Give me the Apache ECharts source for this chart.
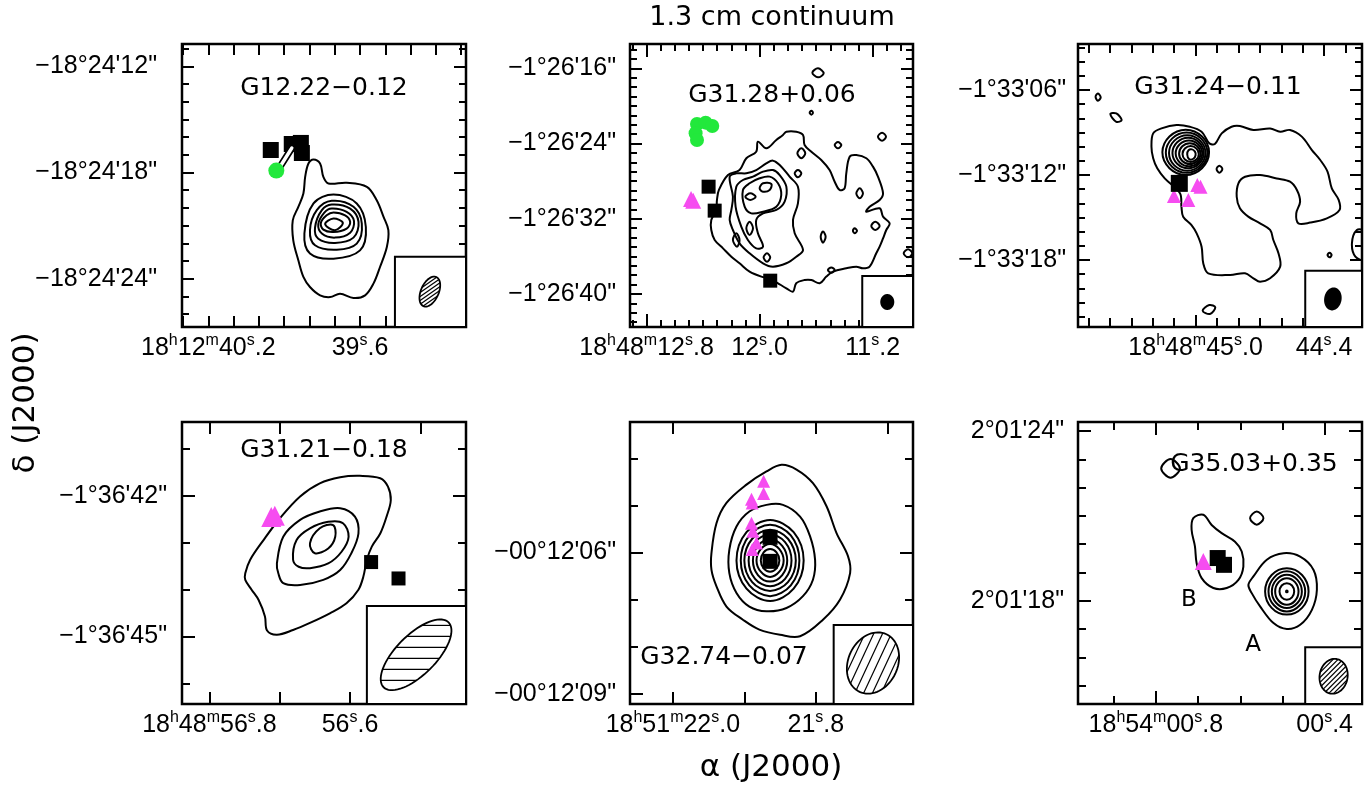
<!DOCTYPE html>
<html><head><meta charset="utf-8">
<script src="https://cdn.jsdelivr.net/npm/echarts@6/dist/echarts.min.js"></script>
<style>html,body{margin:0;padding:0;background:#fff}#c{width:1370px;height:792px}</style>
</head><body><div id="c"></div>
<script>
// ---------------- DATA ----------------
// Panel 1: G12.22-0.12  (x = RA seconds of 18h12m, y = -Dec arcsec of -18d24m)
const p1XTicks = [40.3,40.2,40.1,40.0,39.9,39.8,39.7,39.6,39.5,39.4,39.3,39.2];
const p1XLabelValues = [40.2, 39.6];
const p1XLabelText = ['18{u|h}12{u|m}40{u|s}.2', '39{u|s}.6'];
const p1YTicks = [-11,-12,-13,-14,-15,-16,-17,-18,-19,-20,-21,-22,-23,-24,-25,-26];
const p1YLabelValues = [-12, -18, -24];
const p1YLabelText = ["\u221218°24'12\"", "\u221218°24'18\"", "\u221218°24'24\""];
const p1Contours = [
  [[39.784,-17.26],[39.758,-17.49],[39.745,-18.25],[39.725,-18.62],[39.653,-18.58],[39.573,-18.81],[39.534,-19.57],[39.507,-20.51],[39.488,-21.26],[39.494,-22.21],[39.521,-23.34],[39.547,-24.28],[39.580,-24.94],[39.626,-25.09],[39.679,-24.85],[39.718,-25.04],[39.758,-24.94],[39.798,-24.47],[39.824,-23.90],[39.844,-22.96],[39.864,-21.83],[39.866,-20.70],[39.844,-19.94],[39.824,-19.19],[39.817,-18.25],[39.804,-17.49]],
  [[39.820,-21.45],[39.784,-19.75],[39.705,-19.25],[39.613,-19.75],[39.577,-21.08],[39.600,-22.40],[39.705,-22.87],[39.798,-22.58]],
  [[39.798,-21.26],[39.771,-20.13],[39.712,-19.60],[39.626,-19.94],[39.593,-20.89],[39.613,-22.02],[39.692,-22.36],[39.778,-22.11]],
  [[39.778,-21.11],[39.751,-20.13],[39.712,-19.81],[39.639,-20.04],[39.606,-20.79],[39.626,-21.68],[39.699,-21.98],[39.765,-21.74]],
  [[39.765,-20.92],[39.742,-20.28],[39.712,-20.04],[39.653,-20.23],[39.624,-20.74],[39.639,-21.40],[39.699,-21.68],[39.751,-21.45]],
  [[39.755,-20.85],[39.732,-20.42],[39.705,-20.26],[39.659,-20.42],[39.639,-20.79],[39.653,-21.17],[39.705,-21.36],[39.745,-21.23]],
  [[39.738,-20.92],[39.705,-20.60],[39.668,-20.85],[39.699,-21.26]]
];
const p1Squares = [[39.953,-16.73],[39.870,-16.39],[39.834,-16.33],[39.830,-16.90]];
const p1Circles = [[39.931,-17.89]];
const p1Triangles = [];
const p1Link = [[39.917,-17.69],[39.870,-16.62]];
const p1Beam = [39.324,-24.73,1.8,1.0,-24,39.462,-22.76];

// Panel 2: G31.28+0.06 (x = RA s of 18h48m, y = -Dec arcsec of -1d26m)
const p2XTicks = [12.9,12.8,12.7,12.6,12.5,12.4,12.3,12.2,12.1,12.0,11.9,11.8,11.7,11.6,11.5,11.4,11.3,11.2,11.1,11.0];
const p2XLabelValues = [12.8, 12.0, 11.2];
const p2XLabelText = ['18{u|h}48{u|m}12{u|s}.8', '12{u|s}.0', '11{u|s}.2'];
const p2YTicks = [-14,-15,-16,-17,-18,-19,-20,-21,-22,-23,-24,-25,-26,-27,-28,-29,-30,-31,-32,-33,-34,-35,-36,-37,-38,-39,-40,-41,-42,-43];
const p2YLabelValues = [-16, -24, -32, -40];
const p2YLabelText = ["\u22121°26'16\"", "\u22121°26'24\"", "\u22121°26'32\"", "\u22121°26'40\""];
const p2Contours = [
  [[12.288,-28.94],[12.224,-27.35],[12.142,-26.82],[12.094,-25.57],[12.024,-24.87],[12.012,-23.80],[11.953,-24.51],[11.882,-23.62],[11.835,-23.09],[11.811,-22.74],[11.741,-22.74],[11.693,-23.09],[11.682,-24.16],[11.634,-24.87],[11.564,-25.75],[11.505,-26.82],[11.469,-28.06],[11.434,-28.94],[11.399,-28.77],[11.387,-27.17],[11.363,-25.40],[11.316,-25.22],[11.245,-25.57],[11.198,-26.46],[11.163,-27.52],[11.127,-29.30],[11.151,-30.01],[11.222,-30.72],[11.245,-31.25],[11.151,-30.89],[11.127,-31.78],[11.080,-32.49],[11.104,-33.20],[11.127,-34.09],[11.151,-34.97],[11.175,-35.68],[11.222,-37.10],[11.269,-37.28],[11.316,-37.10],[11.387,-37.28],[11.481,-37.63],[11.528,-38.16],[11.575,-38.87],[11.634,-38.52],[11.682,-38.52],[11.741,-38.87],[11.764,-39.76],[11.811,-39.40],[11.870,-38.87],[11.929,-38.34],[11.988,-38.16],[12.071,-37.63],[12.142,-36.74],[12.200,-36.04],[12.259,-35.15],[12.318,-34.26],[12.342,-33.20],[12.342,-32.13],[12.307,-31.07],[12.302,-30.01]],
  [[12.212,-27.52],[12.189,-29.65],[12.200,-31.07],[12.212,-32.13],[12.189,-33.20],[12.142,-34.62],[12.071,-35.68],[11.976,-36.74],[11.906,-37.10],[11.811,-36.74],[11.741,-36.04],[11.693,-35.33],[11.752,-33.55],[11.764,-32.13],[11.729,-30.36],[11.729,-28.59],[11.788,-27.52],[11.858,-26.28],[11.906,-25.82],[11.953,-26.11],[12.024,-26.82],[12.094,-27.17],[12.165,-27.17]],
  [[12.165,-28.59],[12.170,-30.72],[12.130,-32.84],[12.083,-34.26],[12.024,-35.15],[11.976,-34.97],[12.012,-33.55],[12.024,-32.13],[11.976,-31.43],[11.882,-31.07],[11.823,-30.18],[11.811,-28.59],[11.858,-27.35],[11.906,-26.82],[11.976,-26.99],[12.047,-27.52],[12.118,-27.88]],
  [[12.118,-28.94],[12.106,-30.72],[12.059,-31.43],[11.976,-31.25],[11.882,-30.72],[11.847,-29.48],[11.870,-28.23],[11.929,-27.52],[12.000,-27.70],[12.071,-28.23]],
  [[12.101,-29.65],[12.066,-29.30],[12.028,-29.65],[12.066,-30.01]],
  [[12.000,-28.77],[11.976,-28.23],[11.917,-28.30],[11.929,-28.94],[11.976,-29.12]],
  [[12.071,-32.31],[12.047,-33.02],[12.071,-33.73],[12.094,-33.02]],
  [[12.165,-33.55],[12.142,-34.26],[12.160,-34.97],[12.189,-34.26]],
  [[11.733,-25.04],[11.705,-24.51],[11.677,-25.04],[11.705,-25.57]],
  [[11.752,-27.17],[11.729,-26.82],[11.705,-27.17],[11.729,-27.59]],
  [[11.469,-24.16],[11.446,-23.84],[11.422,-24.16],[11.446,-24.51]],
  [[11.163,-23.27],[11.134,-22.84],[11.106,-23.27],[11.134,-23.70]],
  [[11.316,-29.30],[11.292,-28.77],[11.269,-29.30],[11.292,-29.83]],
  [[11.210,-32.77],[11.182,-32.31],[11.151,-32.77],[11.182,-33.20]],
  [[11.568,-33.91],[11.552,-33.37],[11.533,-33.91],[11.552,-34.55]],
  [[11.517,-37.45],[11.493,-37.20],[11.469,-37.45],[11.493,-37.74]],
  [[11.972,-36.11],[11.948,-35.68],[11.925,-36.11],[11.948,-36.57]],
  [[10.981,-35.68],[10.950,-35.26],[10.920,-35.68],[10.950,-36.11]],
  [[11.340,-33.27],[11.328,-33.02],[11.311,-33.27],[11.328,-33.55]],
  [[11.627,-16.46],[11.587,-16.00],[11.547,-16.53],[11.587,-16.96]],
  [[11.646,-20.72],[11.634,-20.50],[11.623,-20.72],[11.634,-20.93]]
];
const p2Squares = [[12.361,-28.59],[12.318,-31.14],[11.925,-38.59]];
const p2Circles = [[12.443,-21.92],[12.382,-21.78],[12.335,-22.13],[12.453,-22.91],[12.443,-23.62]];
const p2Triangles = [[12.485,-29.9],[12.470,-30.1]];
const p2Beam = [11.097,-40.86,1.5,1.3,0,11.274,-38.09];

// Panel 3: G31.24-0.11 (x = RA s of 18h48m, y = -Dec arcsec of -1d33m)
const p3XTicks = [45.5,45.4,45.3,45.2,45.1,45.0,44.9,44.8,44.7,44.6,44.5,44.4,44.3];
const p3XLabelValues = [45.0, 44.4];
const p3XLabelText = ['18{u|h}48{u|m}45{u|s}.0', '44{u|s}.4'];
const p3YTicks = [-3,-4,-5,-6,-7,-8,-9,-10,-11,-12,-13,-14,-15,-16,-17,-18,-19,-20,-21,-22];
const p3YLabelValues = [-6, -12, -18];
const p3YLabelText = ["\u22121°33'06\"", "\u22121°33'12\"", "\u22121°33'18\""];
const p3Contours = [
  [[45.198,-9.06],[45.206,-10.00],[45.198,-10.82],[45.179,-11.53],[45.144,-12.24],[45.073,-13.29],[45.066,-14.24],[45.058,-14.94],[45.019,-15.53],[44.995,-16.12],[44.972,-17.06],[44.964,-18.24],[44.941,-18.94],[44.839,-19.06],[44.769,-18.94],[44.730,-19.29],[44.699,-19.53],[44.652,-19.29],[44.605,-18.47],[44.613,-17.53],[44.637,-16.59],[44.652,-15.88],[44.699,-15.41],[44.754,-14.94],[44.793,-14.35],[44.808,-13.53],[44.800,-12.59],[44.769,-12.12],[44.699,-12.00],[44.621,-12.24],[44.559,-12.47],[44.527,-13.06],[44.512,-13.88],[44.530,-14.71],[44.520,-15.41],[44.465,-15.36],[44.387,-15.06],[44.328,-14.47],[44.332,-13.76],[44.364,-12.94],[44.384,-11.76],[44.418,-10.94],[44.457,-10.24],[44.504,-9.29],[44.559,-8.82],[44.605,-8.94],[44.652,-8.71],[44.730,-8.82],[44.793,-8.54],[44.832,-8.59],[44.878,-9.06],[44.910,-9.81],[44.936,-9.76],[44.972,-8.94],[45.027,-8.59],[45.089,-8.47],[45.159,-8.71]],
  [[45.155,-10.40],[45.122,-9.28],[45.046,-8.80],[44.970,-9.28],[44.937,-10.40],[44.970,-11.52],[45.046,-12.00],[45.122,-11.52]],
  [[45.139,-10.42],[45.110,-9.43],[45.042,-9.00],[44.974,-9.43],[44.945,-10.42],[44.974,-11.41],[45.042,-11.84],[45.110,-11.41]],
  [[45.124,-10.44],[45.099,-9.57],[45.039,-9.19],[44.979,-9.57],[44.954,-10.44],[44.979,-11.32],[45.039,-11.69],[45.099,-11.32]],
  [[45.108,-10.45],[45.086,-9.69],[45.035,-9.37],[44.984,-9.69],[44.962,-10.45],[44.984,-11.21],[45.035,-11.53],[45.086,-11.21]],
  [[45.093,-10.47],[45.074,-9.83],[45.031,-9.56],[44.988,-9.83],[44.969,-10.47],[44.988,-11.11],[45.031,-11.38],[45.074,-11.11]],
  [[45.077,-10.49],[45.062,-9.97],[45.027,-9.75],[44.992,-9.97],[44.977,-10.49],[44.992,-11.01],[45.027,-11.23],[45.062,-11.01]],
  [[45.061,-10.52],[45.050,-10.13],[45.023,-9.96],[44.996,-10.13],[44.985,-10.52],[44.996,-10.91],[45.023,-11.08],[45.050,-10.91]],
  [[45.039,-10.55],[45.033,-10.25],[45.017,-10.19],[45.003,-10.35],[45.000,-10.60],[45.010,-10.85],[45.030,-10.88]],
  [[45.467,-6.47],[45.456,-6.24],[45.443,-6.52],[45.456,-6.75]],
  [[45.398,-7.69],[45.370,-7.65],[45.345,-8.12],[45.370,-8.24]],
  [[44.902,-11.58],[44.889,-11.34],[44.875,-11.58],[44.889,-11.84]],
  [[44.967,-21.58],[44.936,-21.18],[44.908,-21.34],[44.933,-21.81]],
  [[44.384,-17.65],[44.374,-17.48],[44.365,-17.65],[44.374,-17.81]],
  [[44.247,-15.88],[44.208,-16.00],[44.200,-17.06],[44.208,-18.00],[44.254,-17.76],[44.270,-16.82]]
];
const p3Squares = [[45.076,-12.59]];
const p3Circles = [];
const p3Triangles = [[44.992,-12.71],[44.977,-12.82],[45.101,-13.48],[45.034,-13.76]];
const p3Beam = [44.359,-20.75,1.5,1.1,-10,44.488,-18.75];

// Panel 4: G31.21-0.18 (x = RA s of 18h48m, y = -Dec arcsec of -1d36m)
const p4XTicks = [56.8,56.7,56.6,56.5];
const p4XLabelValues = [56.8, 56.6];
const p4XLabelText = ['18{u|h}48{u|m}56{u|s}.8', '56{u|s}.6'];
const p4YTicks = [-41,-42,-43,-44,-45,-46];
const p4YLabelValues = [-42, -45];
const p4YLabelText = ["\u22121°36'42\"", "\u22121°36'45\""];
const p4Contours = [
  [[56.749,-43.65],[56.742,-43.36],[56.723,-42.94],[56.700,-42.48],[56.671,-42.01],[56.643,-41.73],[56.614,-41.60],[56.586,-41.57],[56.557,-41.62],[56.546,-41.80],[56.542,-42.09],[56.548,-42.44],[56.557,-42.80],[56.569,-43.08],[56.576,-43.36],[56.581,-43.72],[56.588,-44.00],[56.605,-44.29],[56.628,-44.50],[56.657,-44.71],[56.681,-44.86],[56.704,-44.96],[56.718,-44.87],[56.721,-44.57],[56.730,-44.22],[56.740,-44.00],[56.749,-43.79]],
  [[56.704,-43.44],[56.695,-42.87],[56.671,-42.51],[56.643,-42.33],[56.614,-42.26],[56.593,-42.44],[56.588,-42.80],[56.598,-43.22],[56.614,-43.58],[56.638,-43.79],[56.671,-43.90],[56.695,-43.86],[56.702,-43.65]],
  [[56.681,-43.36],[56.676,-42.94],[56.657,-42.69],[56.631,-42.55],[56.610,-42.58],[56.602,-42.87],[56.612,-43.19],[56.631,-43.44],[56.657,-43.54],[56.673,-43.51]],
  [[56.657,-43.01],[56.643,-42.69],[56.624,-42.62],[56.621,-42.87],[56.631,-43.12],[56.650,-43.22]]
];
const p4Squares = [[56.570,-43.41],[56.531,-43.76]];
const p4Circles = [];
const p4Triangles = [[56.712,-42.45],[56.707,-42.42]];
const p4Beam = [56.506,-45.39,1.96,0.85,-45,56.576,-44.35];

// Panel 5: G32.74-0.07 (x = RA s of 18h51m, y = -Dec arcsec of -00d12m)
const p5XTicks = [22.0,21.9,21.8,21.7];
const p5XLabelValues = [22.0, 21.8];
const p5XLabelText = ['18{u|h}51{u|m}22{u|s}.0', '21{u|s}.8'];
const p5YTicks = [-4,-5,-6,-7,-8,-9];
const p5YLabelValues = [-6, -9];
const p5YLabelText = ["\u221200°12'06\"", "\u221200°12'09\""];
const p5Contours = [
  [[21.946,-6.01],[21.939,-5.38],[21.925,-4.95],[21.897,-4.56],[21.869,-4.28],[21.848,-4.14],[21.827,-4.24],[21.804,-4.53],[21.785,-5.02],[21.771,-5.59],[21.755,-6.08],[21.752,-6.44],[21.766,-7.00],[21.790,-7.43],[21.822,-7.78],[21.850,-7.75],[21.879,-7.64],[21.902,-7.43],[21.925,-7.15],[21.939,-6.72],[21.946,-6.37]],
  [[21.921,-5.94],[21.911,-5.45],[21.893,-5.13],[21.869,-4.99],[21.846,-4.99],[21.822,-5.24],[21.808,-5.66],[21.801,-6.16],[21.804,-6.58],[21.818,-6.93],[21.841,-7.18],[21.869,-7.25],[21.893,-7.15],[21.911,-6.86],[21.921,-6.44]],
  [[21.911,-6.17],[21.897,-5.57],[21.864,-5.31],[21.831,-5.57],[21.817,-6.17],[21.831,-6.77],[21.864,-7.03],[21.897,-6.77]],
  [[21.905,-6.17],[21.893,-5.64],[21.864,-5.41],[21.835,-5.64],[21.823,-6.17],[21.835,-6.70],[21.864,-6.93],[21.893,-6.70]],
  [[21.900,-6.17],[21.889,-5.71],[21.864,-5.52],[21.839,-5.71],[21.828,-6.17],[21.839,-6.63],[21.864,-6.82],[21.889,-6.63]],
  [[21.894,-6.17],[21.885,-5.78],[21.864,-5.62],[21.843,-5.78],[21.834,-6.17],[21.843,-6.56],[21.864,-6.72],[21.885,-6.56]],
  [[21.888,-6.17],[21.881,-5.86],[21.864,-5.72],[21.847,-5.86],[21.840,-6.17],[21.847,-6.48],[21.864,-6.62],[21.881,-6.48]],
  [[21.883,-6.17],[21.877,-5.93],[21.864,-5.82],[21.851,-5.93],[21.845,-6.17],[21.851,-6.41],[21.864,-6.52],[21.877,-6.41]],
  [[21.877,-6.17],[21.873,-6.00],[21.864,-5.93],[21.855,-6.00],[21.851,-6.17],[21.855,-6.34],[21.864,-6.41],[21.873,-6.34]]
];
const p5Squares = [[21.864,-5.68],[21.864,-6.19]];
const p5Circles = [];
const p5Triangles = [[21.873,-4.49],[21.873,-4.75],[21.890,-4.87],[21.889,-4.95],[21.890,-5.38],[21.888,-5.55],[21.883,-5.80],[21.889,-5.94]];
const p5Beam = [21.720,-8.35,1.35,1.05,-25,21.775,-7.54];

// Panel 6: G35.03+0.35 (x = RA s of 18h54m, y = Dec arcsec of +2d01m)
const p6XTicks = [0.9,0.8,0.7,0.6,0.5,0.4];
const p6XLabelValues = [0.8, 0.4];
const p6XLabelText = ['18{u|h}54{u|m}00{u|s}.8', '00{u|s}.4'];
const p6YTicks = [15,16,17,18,19,20,21,22,23,24];
const p6YLabelValues = [24, 18];
const p6YLabelText = ["2°01'24\"", "2°01'18\""];
const p6Contours = [
  [[0.7113,20.92],[0.6876,21.04],[0.6678,20.68],[0.6440,20.39],[0.6124,20.09],[0.5965,19.74],[0.5926,19.21],[0.6044,18.74],[0.6321,18.45],[0.6638,18.45],[0.6915,18.80],[0.7034,19.33],[0.7074,19.92],[0.7153,20.51]],
  [[0.5807,18.56],[0.5688,18.86],[0.5371,19.45],[0.4975,19.68],[0.4580,19.56],[0.4263,19.09],[0.4184,18.39],[0.4302,17.68],[0.4580,17.15],[0.4896,17.00],[0.5213,17.21],[0.5530,17.80],[0.5728,18.27]],
  [[0.5411,18.33],[0.5256,18.91],[0.4896,19.15],[0.4536,18.91],[0.4381,18.33],[0.4536,17.75],[0.4896,17.51],[0.5256,17.75]],
  [[0.5331,18.33],[0.5201,18.82],[0.4896,19.04],[0.4591,18.82],[0.4461,18.33],[0.4591,17.84],[0.4896,17.62],[0.5201,17.84]],
  [[0.5252,18.33],[0.5146,18.74],[0.4896,18.92],[0.4646,18.74],[0.4540,18.33],[0.4646,17.92],[0.4896,17.74],[0.5146,17.92]],
  [[0.5173,18.33],[0.5090,18.66],[0.4896,18.80],[0.4702,18.66],[0.4619,18.33],[0.4702,18.00],[0.4896,17.86],[0.5090,18.00]],
  [[0.5070,18.33],[0.5018,18.54],[0.4896,18.62],[0.4774,18.54],[0.4722,18.33],[0.4774,18.12],[0.4896,18.04],[0.5018,18.12]],
  [[0.4915,18.33],[0.4896,18.36],[0.4877,18.33],[0.4896,18.30]],
  [[0.7873,22.68],[0.7652,23.01],[0.7430,22.68],[0.7652,22.35]],
  [[0.5767,20.92],[0.5609,21.16],[0.5451,20.92],[0.5609,20.69]]
];
const p6Squares = [[0.6535,19.51],[0.6385,19.27]];
const p6Circles = [];
const p6Triangles = [[0.6876,19.39]];
const p6Beam = [0.3788,15.33,1.24,0.99,-10,0.4461,16.36];

// ---------------- LAYOUT / STYLE ----------------
const FONT = 'Liberation Sans';
const TFONT = 'DejaVu Sans';
const MAGENTA = '#f64cf0';
const GREEN = '#22e83c';

const panels = [
  {grid:{left:182,top:44,width:284,height:283}, xr:[39.181,40.304], yr:[-26.73,-10.74],
   xMinor:p1XTicks, xMajor:p1XLabelValues, xText:p1XLabelText, yMinor:p1YTicks, yMajor:p1YLabelValues, yText:p1YLabelText,
   contours:p1Contours, squares:p1Squares, circles:p1Circles, triangles:p1Triangles, beam:p1Beam,
   hatch:{angle:35,gap:3.2}, ylMargin:25, xMaj:11, xMin:11, yMaj:12, yMin:7, sq:16, tri:16, circ:16},
  {grid:{left:630,top:44,width:283,height:283}, xr:[10.915,12.917], yr:[-43.52,-13.41],
   xMinor:p2XTicks, xMajor:p2XLabelValues, xText:p2XLabelText, yMinor:p2YTicks, yMajor:p2YLabelValues, yText:p2YLabelText,
   contours:p2Contours, squares:p2Squares, circles:p2Circles, triangles:p2Triangles, beam:p2Beam,
   fill:true, ylMargin:14, xMaj:13, xMin:7, yMaj:12, yMin:7, sq:14, tri:16, circ:14},
  {grid:{left:1078,top:44,width:284,height:283}, xr:[44.223,45.549], yr:[-22.73,-2.75],
   xMinor:p3XTicks, xMajor:p3XLabelValues, xText:p3XLabelText, yMinor:p3YTicks, yMajor:p3YLabelValues, yText:p3YLabelText,
   contours:p3Contours, squares:p3Squares, circles:p3Circles, triangles:p3Triangles, beam:p3Beam,
   fill:true, ylMargin:12, xMaj:12, xMin:9, yMaj:12, yMin:7, sq:17, tri:14, circ:14},
  {grid:{left:182,top:422,width:284,height:282}, xr:[56.435,56.839], yr:[-46.44,-40.42],
   xMinor:p4XTicks, xMajor:p4XLabelValues, xText:p4XLabelText, yMinor:p4YTicks, yMajor:p4YLabelValues, yText:p4YLabelText,
   contours:p4Contours, squares:p4Squares, circles:p4Circles, triangles:p4Triangles, beam:p4Beam,
   hatch:{angle:0,gap:11}, ylMargin:15, xMaj:12, xMin:12, yMaj:13, yMin:8, sq:14, tri:20, circ:14},
  {grid:{left:630,top:422,width:283,height:282}, xr:[21.664,22.060], yr:[-9.22,-3.23],
   xMinor:p5XTicks, xMajor:p5XLabelValues, xText:p5XLabelText, yMinor:p5YTicks, yMajor:p5YLabelValues, yText:p5YLabelText,
   contours:p5Contours, squares:p5Squares, circles:p5Circles, triangles:p5Triangles, beam:p5Beam,
   hatch:{angle:65,gap:8}, ylMargin:14, xMaj:12, xMin:12, yMaj:13, yMin:8, sq:15, tri:13, circ:14},
  {grid:{left:1078,top:422,width:284,height:282}, xr:[0.3115,0.9845], yr:[14.35,24.32],
   xMinor:p6XTicks, xMajor:p6XLabelValues, xText:p6XLabelText, yMinor:p6YTicks, yMajor:p6YLabelValues, yText:p6YLabelText,
   contours:p6Contours, squares:p6Squares, circles:p6Circles, triangles:p6Triangles, beam:p6Beam,
   hatch:{angle:45,gap:3.5}, ylMargin:14, xMaj:13, xMin:8, yMaj:13, yMin:8, sq:16, tri:17, circ:14}
];

function closest(arr, v){ let bi=0, bd=Infinity; arr.forEach((a,i)=>{const d=Math.abs(a-v); if(d<bd){bd=d;bi=i;}}); return bi; }

const grids=[], xAxis=[], yAxis=[], series=[];
const tickStyle = {color:'#000', width:2};
panels.forEach((p,g)=>{
  grids.push(Object.assign({show:true, borderColor:'#000', borderWidth:2.5, backgroundColor:'transparent', containLabel:false}, p.grid));
  const base = {gridIndex:g, type:'value', splitLine:{show:false}, axisLine:{show:false, onZero:false}, scale:true};
  const xb = Object.assign({}, base, {min:p.xr[0], max:p.xr[1], inverse:true});
  const yb = Object.assign({}, base, {min:p.yr[0], max:p.yr[1]});
  const noLab = {show:false};
  xAxis.push(Object.assign({}, xb, {position:'bottom',
    axisTick:{show:true, inside:true, length:p.xMaj, customValues:p.xMajor, lineStyle:tickStyle},
    axisLabel:{show:true, customValues:p.xMajor, formatter:(v)=>p.xText[closest(p.xMajor,v)], margin:6,
      color:'#000', fontFamily:FONT, fontSize:25, lineHeight:30,
      rich:{u:{fontSize:16, fontFamily:FONT, color:'#000', verticalAlign:'top', lineHeight:30}}}}));
  xAxis.push(Object.assign({}, xb, {position:'bottom', axisTick:{show:true, inside:true, length:p.xMin, customValues:p.xMinor, lineStyle:tickStyle}, axisLabel:noLab}));
  xAxis.push(Object.assign({}, xb, {position:'top', axisTick:{show:true, inside:true, length:p.xMaj, customValues:p.xMajor, lineStyle:tickStyle}, axisLabel:noLab}));
  xAxis.push(Object.assign({}, xb, {position:'top', axisTick:{show:true, inside:true, length:p.xMin, customValues:p.xMinor, lineStyle:tickStyle}, axisLabel:noLab}));
  yAxis.push(Object.assign({}, yb, {position:'left',
    axisTick:{show:true, inside:true, length:p.yMaj, customValues:p.yMajor, lineStyle:tickStyle},
    axisLabel:{show:true, customValues:p.yMajor, formatter:(v)=>p.yText[closest(p.yMajor,v)], margin:p.ylMargin,
      color:'#000', fontFamily:FONT, fontSize:25}}));
  yAxis.push(Object.assign({}, yb, {position:'left', axisTick:{show:true, inside:true, length:p.yMin, customValues:p.yMinor, lineStyle:tickStyle}, axisLabel:noLab}));
  yAxis.push(Object.assign({}, yb, {position:'right', axisTick:{show:true, inside:true, length:p.yMaj, customValues:p.yMajor, lineStyle:tickStyle}, axisLabel:noLab}));
  yAxis.push(Object.assign({}, yb, {position:'right', axisTick:{show:true, inside:true, length:p.yMin, customValues:p.yMinor, lineStyle:tickStyle}, axisLabel:noLab}));

  const ax = {xAxisIndex:4*g, yAxisIndex:4*g};
  series.push(Object.assign({type:'custom', clip:true, silent:true, z:2,
    data:p.contours.map((c,i)=>[c[0][0], c[0][1], i]),
    renderItem:(params, api)=>{
      const c = p.contours[api.value(2)];
      const pts = c.map(q=>api.coord(q));
      return {type:'polygon', shape:{points:pts, smooth:0.35}, style:{fill:null, stroke:'#000', lineWidth:2}};
    }}, ax));
  if (p.triangles.length) series.push(Object.assign({type:'scatter', z:3, silent:true, symbol:'triangle', symbolSize:p.tri,
    itemStyle:{color:MAGENTA, opacity:1}, data:p.triangles}, ax));
  series.push(Object.assign({type:'scatter', z:4, silent:true, symbol:'rect', symbolSize:p.sq,
    itemStyle:{color:'#000', opacity:1}, data:p.squares}, ax));
  if (p.circles.length) series.push(Object.assign({type:'scatter', z:5, silent:true, symbol:'circle', symbolSize:p.circ,
    itemStyle:{color:GREEN, opacity:1}, data:p.circles}, ax));
  series.push(Object.assign({type:'custom', silent:true, z:6, data:[p.beam],
    renderItem:(params, api)=>{
      const c = api.coord([api.value(0), api.value(1)]);
      const k = Math.abs(api.size([0,1])[1]);
      const A = api.value(2)*k/2, B = api.value(3)*k/2, pa = api.value(4)*Math.PI/180;
      const corner = api.coord([api.value(5), api.value(6)]);
      const cs = params.coordSys;
      const children = [{type:'rect', shape:{x:corner[0], y:corner[1], width:cs.x+cs.width-corner[0], height:cs.y+cs.height-corner[1]},
        style:{fill:'#fff', stroke:'#000', lineWidth:2}}];
      const m = [-Math.sin(pa), -Math.cos(pa)], mp = [-m[1], m[0]];
      const pts = [];
      for (let i=0;i<72;i++){ const t=i/72*2*Math.PI, a=A*Math.cos(t), b=B*Math.sin(t); pts.push([c[0]+a*m[0]+b*mp[0], c[1]+a*m[1]+b*mp[1]]); }
      children.push({type:'polygon', shape:{points:pts}, style:{fill:p.fill?'#000':'#fff', stroke:'#000', lineWidth:1.8}});
      if (p.hatch){
        const th = p.hatch.angle*Math.PI/180, u=[Math.cos(th), -Math.sin(th)], n=[Math.sin(th), Math.cos(th)];
        const dot=(v,w)=>v[0]*w[0]+v[1]*w[1];
        const a1=dot(u,m)/A, a2=dot(u,mp)/B;
        for (let t=-A+p.hatch.gap/2; t<A; t+=p.hatch.gap){
          const b1=t*dot(n,m)/A, b2=t*dot(n,mp)/B;
          const qa=a1*a1+a2*a2, qb=2*(a1*b1+a2*b2), qc=b1*b1+b2*b2-1;
          const disc=qb*qb-4*qa*qc; if (disc<=0) continue;
          const l1=(-qb-Math.sqrt(disc))/(2*qa), l2=(-qb+Math.sqrt(disc))/(2*qa);
          children.push({type:'line', shape:{x1:c[0]+t*n[0]+l1*u[0], y1:c[1]+t*n[1]+l1*u[1], x2:c[0]+t*n[0]+l2*u[0], y2:c[1]+t*n[1]+l2*u[1]},
            style:{stroke:'#000', lineWidth:1.2}});
        }
      }
      return {type:'group', children};
    }}, ax));
});
series.push({type:'line', xAxisIndex:0, yAxisIndex:0, z:4.5, silent:true, symbol:'none', data:p1Link, lineStyle:{color:'#000', width:7, cap:'round'}});
series.push({type:'line', xAxisIndex:0, yAxisIndex:0, z:4.6, silent:true, symbol:'none', data:p1Link, lineStyle:{color:'#fff', width:3.5, cap:'round'}});

const txt = (x,y,text,size,font,extra)=>Object.assign({type:'text', x, y, silent:true, z:50,
  style:{text, fontSize:size, fontFamily:font, fill:'#000', textAlign:'center', textVerticalAlign:'middle'}}, extra||{});

const graphic = [
  txt(772,18,'1.3 cm continuum',27,TFONT),
  txt(324,88,'G12.22\u22120.12',25,TFONT),
  txt(772,95,'G31.28+0.06',25,TFONT),
  txt(1218,87,'G31.24\u22120.11',25,TFONT),
  txt(324,450,'G31.21\u22120.18',25,TFONT),
  txt(724,657,'G32.74\u22120.07',25,TFONT),
  txt(1254,464,'G35.03+0.35',25,TFONT),
  txt(1189,600,'B',23,TFONT),
  txt(1253,645,'A',23,TFONT),
  txt(771,768,'\u03b1 (J2000)',31,TFONT),
  Object.assign(txt(0,0,'\u03b4 (J2000)',31,TFONT), {x:26, y:403, rotation:Math.PI/2})
];

const chart = echarts.init(document.getElementById('c'), null, {renderer:'canvas'});
chart.setOption({animation:false, backgroundColor:'#fff', grid:grids, xAxis, yAxis, series, graphic});
</script></body></html>
